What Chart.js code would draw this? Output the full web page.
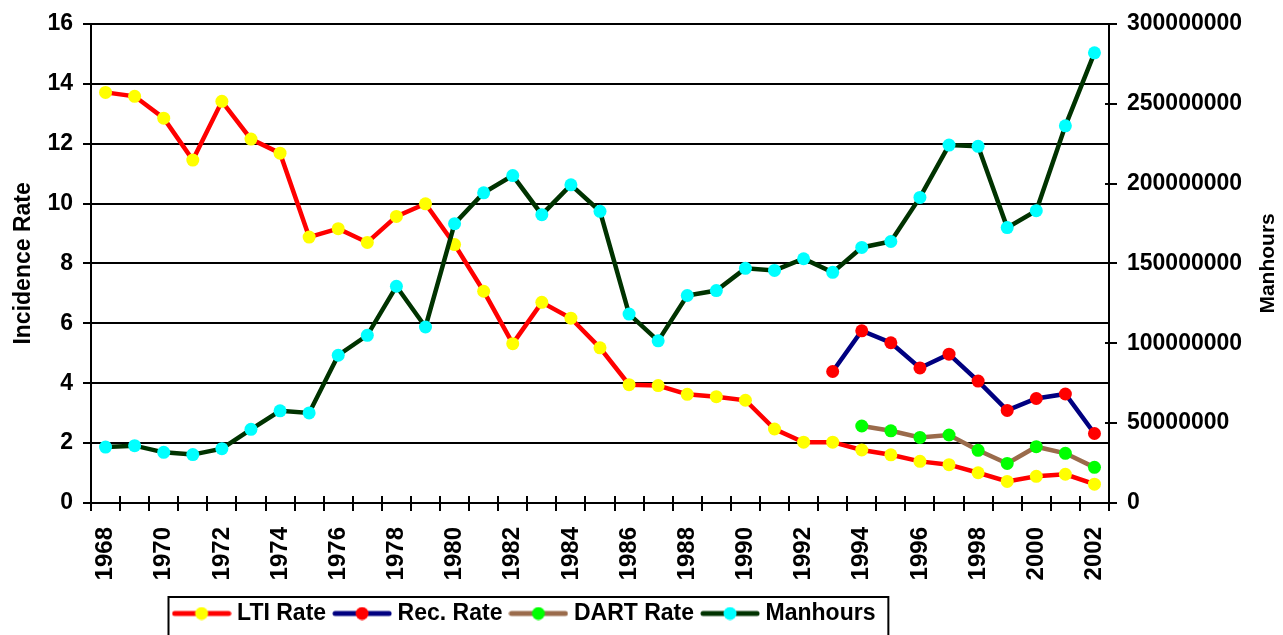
<!DOCTYPE html>
<html>
<head>
<meta charset="utf-8">
<title>Incidence Rate / Manhours</title>
<script src="https://cdn.jsdelivr.net/npm/chart.js@4.4.0/dist/chart.umd.min.js"></script>
<style>
	body { margin: 0; background: #fff; }
	#grafico { display: block; }
</style>
</head>
<body>
<canvas id="grafico" width="1283" height="635"></canvas>
<script>
	let anios = ['1968', '1969', '1970', '1971', '1972', '1973', '1974', '1975', '1976', '1977',
		'1978', '1979', '1980', '1981', '1982', '1983', '1984', '1985', '1986', '1987',
		'1988', '1989', '1990', '1991', '1992', '1993', '1994', '1995', '1996', '1997',
		'1998', '1999', '2000', '2001', '2002'];

	// solo los pares llevan etiqueta
	let etiquetasX = ['1968', '1970', '1972', '1974', '1976', '1978', '1980', '1982', '1984',
		'1986', '1988', '1990', '1992', '1994', '1996', '1998', '2000', '2002'];

	let ltiRate = [13.71, 13.58, 12.85, 11.45, 13.41, 12.15, 11.68, 8.88, 9.16, 8.7,
		9.57, 9.99, 8.63, 7.07, 5.32, 6.7, 6.17, 5.18, 3.95, 3.92,
		3.63, 3.55, 3.43, 2.47, 2.03, 2.03, 1.77, 1.61, 1.39, 1.28,
		1.01, 0.72, 0.89, 0.96, 0.63];

	let recRate = [null, null, null, null, null, null, null, null, null, null,
		null, null, null, null, null, null, null, null, null, null,
		null, null, null, null, null, 4.39, 5.75, 5.35, 4.51, 4.97,
		4.07, 3.09, 3.49, 3.64, 2.32];

	let dartRate = [null, null, null, null, null, null, null, null, null, null,
		null, null, null, null, null, null, null, null, null, null,
		null, null, null, null, null, null, 2.57, 2.41, 2.19, 2.27,
		1.76, 1.32, 1.88, 1.66, 1.19];

	let manhours = [35000000, 35900000, 31700000, 30300000, 34000000, 46100000, 57700000, 56400000, 92500000, 105000000,
		135700000, 110200000, 174900000, 194200000, 205000000, 180500000, 199200000, 182600000, 118300000, 101500000,
		129900000, 133000000, 146900000, 145600000, 152900000, 144400000, 160000000, 163700000, 191300000, 224100000,
		223300000, 172400000, 183000000, 236100000, 281800000];

	let ticksRate = [0, 2, 4, 6, 8, 10, 12, 14, 16];
	let ticksManhours = [0, 50000000, 100000000, 150000000, 200000000, 250000000, 300000000];

	let fuente = "'Liberation Sans', Arial, sans-serif";
	Chart.defaults.color = '#000';
	Chart.defaults.font.family = fuente;

	function iconoLeyenda(linea, punto){
		let c = document.createElement('canvas');
		c.width = 60;
		c.height = 14;
		let g = c.getContext('2d');
		g.strokeStyle = linea;
		g.lineWidth = 5;
		g.lineCap = 'round';
		g.beginPath();
		g.moveTo(3, 7);
		g.lineTo(57, 7);
		g.stroke();
		g.fillStyle = punto;
		g.beginPath();
		g.arc(30, 7, 6.5, 0, Math.PI * 2);
		g.fill();
		return c;
	}

	let iconos = [
		iconoLeyenda('#FF0000', '#FFFF00'),
		iconoLeyenda('#000080', '#FF0000'),
		iconoLeyenda('#9A6B4B', '#00FF00'),
		iconoLeyenda('#003300', '#00FFFF')
	];

	// marcas que cruzan los ejes, leyenda corrida a la izquierda con marco, titulo derecho
	let extras = {
		id: 'extras',
		afterLayout(chart){
			chart.legend.left -= 115;
			chart.legend.right -= 115;
		},
		afterDraw(chart){
			let ctx = chart.ctx;
			let area = chart.chartArea;
			let x = chart.scales.x;
			let y1 = chart.scales.y1;

			ctx.save();
			ctx.strokeStyle = '#000';
			ctx.lineWidth = 2;
			ctx.beginPath();
			let paso = x.width / anios.length;
			for(let i = 0; i <= anios.length; i++){
				let px = Math.round(x.left + i * paso);
				ctx.moveTo(px, area.bottom);
				ctx.lineTo(px, area.bottom - 7);
			}
			y1.ticks.forEach(function(t, i){
				let py = Math.round(y1.getPixelForTick(i));
				ctx.moveTo(area.right, py);
				ctx.lineTo(area.right - 4, py);
			});
			ctx.stroke();

			ctx.font = 'bold 21px ' + fuente;
			ctx.fillStyle = '#000';
			ctx.textAlign = 'center';
			ctx.textBaseline = 'middle';
			ctx.translate(y1.right - 15, (area.top + area.bottom) / 2);
			ctx.rotate(-Math.PI / 2);
			ctx.fillText('Manhours', 0, 0);
			ctx.restore();

			let lg = chart.legend;
			let pad = lg.options.labels.padding;
			let ancho = lg.lineWidths[0] - pad;
			let x0 = (lg.left + lg.right) / 2 - ancho / 2;
			ctx.save();
			ctx.strokeStyle = '#000';
			ctx.lineWidth = 2;
			ctx.strokeRect(Math.round(x0 - 10) + 0.5, Math.round(lg.top) + 7, ancho + 22, lg.height + 20);
			ctx.restore();
		}
	};

	let ctx = document.getElementById('grafico').getContext('2d');

	new Chart(ctx, {
		type: 'line',
		data: {
			labels: anios,
			datasets: [{
				label: 'LTI Rate',
				data: ltiRate,
				yAxisID: 'y',
				borderColor: '#FF0000',
				backgroundColor: '#FFFF00',
				pointBackgroundColor: '#FFFF00',
				pointBorderColor: '#FFFF00',
				order: 3
			},
			{
				label: 'Rec. Rate',
				data: recRate,
				yAxisID: 'y',
				borderColor: '#000080',
				backgroundColor: '#FF0000',
				pointBackgroundColor: '#FF0000',
				pointBorderColor: '#FF0000',
				order: 2
			},
			{
				label: 'DART Rate',
				data: dartRate,
				yAxisID: 'y',
				borderColor: '#9A6B4B',
				backgroundColor: '#00FF00',
				pointBackgroundColor: '#00FF00',
				pointBorderColor: '#00FF00',
				order: 1
			},
			{
				label: 'Manhours',
				data: manhours,
				yAxisID: 'y1',
				borderColor: '#003300',
				backgroundColor: '#00FFFF',
				pointBackgroundColor: '#00FFFF',
				pointBorderColor: '#00FFFF',
				order: 0
			}]
		},
		options: {
			responsive: false,
			animation: false,
			devicePixelRatio: 1,
			layout: {
				padding: { top: 17, left: 0, right: 0, bottom: 0 }
			},
			elements: {
				line: { borderWidth: 4.5, tension: 0, fill: false },
				point: { radius: 6.5, borderWidth: 0, hoverRadius: 6.5 }
			},
			plugins: {
				tooltip: { enabled: false },
				legend: {
					display: true,
					position: 'bottom',
					labels: {
						color: '#000',
						usePointStyle: true,
						pointStyleWidth: 48,
						padding: 12,
						font: { size: 23, weight: 'bold' },
						sort: (a, b) => a.datasetIndex - b.datasetIndex,
						generateLabels(chart){
							let items = Chart.defaults.plugins.legend.labels.generateLabels(chart);
							items.forEach(it => it.pointStyle = iconos[it.datasetIndex]);
							return items;
						}
					}
				}
			},
			scales: {
				x: {
					type: 'category',
					offset: true,
					afterFit: s => { s.height = 87; },
					grid: {
						offset: true,
						drawOnChartArea: false,
						drawTicks: true,
						tickLength: 8,
						color: '#000',
						lineWidth: 2
					},
					border: { color: '#000', width: 2 },
					ticks: {
						autoSkip: false,
						maxRotation: 90,
						minRotation: 90,
						padding: 16,
						font: { size: 24, weight: 'bold' },
						callback: function(v, i){
							return etiquetasX.includes(anios[i]) ? anios[i] : '';
						}
					}
				},
				y: {
					position: 'left',
					min: 0,
					max: 16,
					afterFit: s => { s.width = 91; },
					afterBuildTicks: s => { s.ticks = ticksRate.map(v => ({ value: v })); },
					grid: { color: '#000', lineWidth: 2, tickLength: 8 },
					border: { color: '#000', width: 2 },
					ticks: {
						padding: 10,
						font: { size: 23, weight: 'bold' }
					},
					title: {
						display: true,
						text: 'Incidence Rate',
						padding: { top: 10, bottom: 0 },
						font: { size: 23, weight: 'bold' }
					}
				},
				y1: {
					position: 'right',
					min: 0,
					max: 300000000,
					afterFit: s => { s.width = 174; },
					afterBuildTicks: s => { s.ticks = ticksManhours.map(v => ({ value: v })); },
					grid: { drawOnChartArea: false, color: '#000', lineWidth: 2, tickLength: 8 },
					border: { color: '#000', width: 2 },
					ticks: {
						padding: 10,
						font: { size: 23, weight: 'bold' },
						callback: v => String(v)
					}
				}
			}
		},
		plugins: [extras]
	});
</script>
</body>
</html>
